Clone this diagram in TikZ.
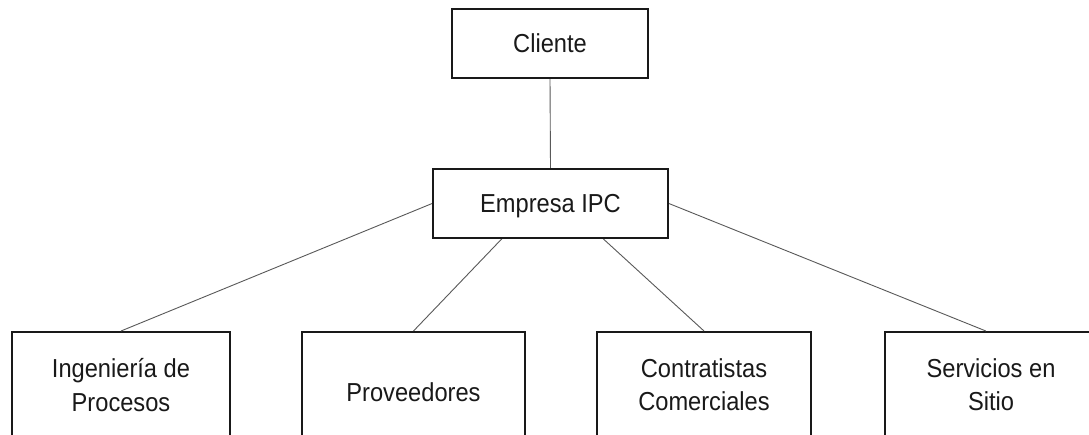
\documentclass[tikz,border=0pt]{standalone}
\usepackage{fontspec}
\setmainfont[FakeStretch=0.91]{Liberation Sans}
\usetikzlibrary{calc}
\tikzset{
  box/.style={draw=black!90, line width=1.8pt, fill=white, inner sep=0pt,
    align=center, font=\fontsize{26}{33.5}\selectfont, text=black!90},
  topbox/.style={box, minimum height=69pt, text depth=0pt},
  leafbox/.style={box, anchor=north},
  oneline/.style={leafbox, text depth=0pt, minimum height=119.5pt},
  twoline/.style={leafbox, minimum height=106pt},
  link/.style={draw=black!65, line width=0.9pt}
}
\begin{document}
\begin{tikzpicture}[x=1pt, y=-1pt]
  \clip (0,0) rectangle (1089,435);
  \fill[white] (0,0) rectangle (1089,435);

  % top of the hierarchy
  \node[topbox, minimum width=196pt] (cli) at (550,43.5) {Cliente};
  \node[topbox, minimum width=235pt] (emp) at (550.5,203.5) {Empresa IPC};

  % branch boxes (they run past the lower edge)
  \node[twoline, minimum width=218pt] (b1) at (121,331) {Ingeniería de\\Procesos};
  \node[oneline, minimum width=223pt] (b2) at (413.5,331) {Proveedores};
  \node[twoline, minimum width=214pt] (b3) at (704,331) {Contratistas\\Comerciales};
  \node[twoline, minimum width=212pt] (b4) at (991,331) {Servicios en\\Sitio};
  % the side walls continue to the lower edge
  \foreach \b in {b1,b3,b4} {
    \draw[draw=black!90, line width=1.8pt] (\b.south west) -- ++(0,40);
    \draw[draw=black!90, line width=1.8pt] (\b.south east) -- ++(0,40);
  }

  % connectors
  \draw[link] (cli.south) -- (emp.north);
  \draw[link] (emp.west) -- (b1.north);
  \draw[link] ($(emp.south west)!0.294!(emp.south east)$) -- (b2.north);
  \draw[link] ($(emp.south west)!0.723!(emp.south east)$) -- (b3.north);
  \draw[link] (emp.east) -- ($(b4.north west)!0.476!(b4.north east)$);

  % redraw the boxes over the line ends
  \node[topbox, minimum width=196pt] at (cli) {Cliente};
  \node[topbox, minimum width=235pt] at (emp) {Empresa IPC};
\end{tikzpicture}
\end{document}
